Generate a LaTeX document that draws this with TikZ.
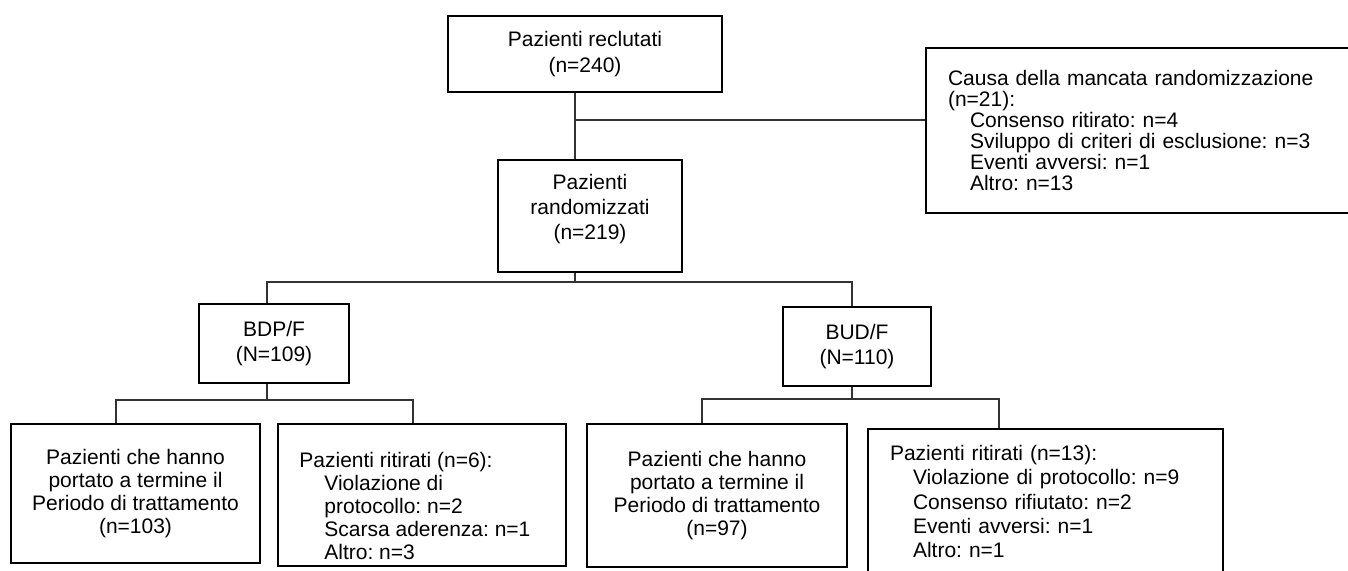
\documentclass[tikz,border=0pt]{standalone}
\usepackage{fontspec}
\setmainfont{Liberation Sans}
\usepackage{tikz}
\usetikzlibrary{positioning}
\frenchspacing

\begin{document}
\begin{tikzpicture}[
    x=0.5pt, y=-0.5pt,
    every node/.style={inner sep=0pt, align=center, font=\fontsize{10.5}{12.5}\selectfont},
    box/.style={draw, line width=1pt},
    leftbox/.style={box, align=left, inner xsep=11pt},
    leading/.style={font=\fontsize{10.5}{#1}\selectfont},
    link/.style={draw=black!80, line width=0.65pt}
]
    \useasboundingbox (0,0) rectangle (1348,570);

    % --- SCREENING ---
    \node[box, leading=12.85pt, minimum width=137pt, minimum height=38pt] (recl) at (585,54)
        {Pazienti reclutati\\(n=240)};

    \node[leftbox, leading=10.5pt, text width=191pt, minimum height=82.5pt] (causa) at (1139,130.5)
        {Causa della mancata randomizzazione\\(n=21):\\
         \hspace*{11pt}Consenso ritirato: n=4\\
         \hspace*{11pt}Sviluppo di criteri di esclusione: n=3\\
         \hspace*{11pt}Eventi avversi: n=1\\
         \hspace*{11pt}Altro: n=13};

    \node[box, minimum width=92pt, minimum height=56pt] (rand) at (590,216) {};
    \node[leading=12.65pt] (randtxt) at (590,209) {Pazienti\\randomizzati\\(n=219)};

    % --- ARMS ---
    \node[box, leading=12.15pt, minimum width=75pt, minimum height=39.5pt] (bdp) at (274,343.5)
        {BDP/F\\(N=109)};
    \node[box, leading=12.15pt, minimum width=74pt, minimum height=39.5pt] (bud) at (857,346.5)
        {BUD/F\\(N=110)};

    % --- OUTCOMES: BDP/F ---
    \node[box, leading=11.5pt, minimum width=124.5pt, minimum height=69.5pt] (comp1) at (135.5,493.5)
        {Pazienti che hanno\\portato a termine il\\Periodo di trattamento\\(n=103)};

    \node[box, minimum width=144pt, minimum height=71pt] (rit1) at (422,495) {};
    \node[leading=11.5pt, align=left, anchor=west] (rit1txt) at (299,506)
        {Pazienti ritirati (n=6):\\
         \hspace*{12.5pt}Violazione di\\
         \hspace*{12.5pt}protocollo: n=2\\
         \hspace*{12.5pt}Scarsa aderenza: n=1\\
         \hspace*{12.5pt}Altro: n=3};

    % --- OUTCOMES: BUD/F ---
    \node[box, leading=11.5pt, minimum width=130pt, minimum height=71.5pt] (comp2) at (717,495.5)
        {Pazienti che hanno\\portato a termine il\\Periodo di trattamento\\(n=97)};

    \node[leftbox, leading=12.15pt, text width=155.5pt, minimum height=72.5pt] (rit2) at (1045.5,501.5)
        {Pazienti ritirati (n=13):\\
         \hspace*{11.5pt}Violazione di protocollo: n=9\\
         \hspace*{11.5pt}Consenso rifiutato: n=2\\
         \hspace*{11.5pt}Eventi avversi: n=1\\
         \hspace*{11.5pt}Altro: n=1};

    % --- JUNCTIONS ---
    \coordinate (s0) at (575,120);
    \coordinate (s1) at (575,282);
    \coordinate (s2) at (267,400);
    \coordinate (s3) at (852,399);
    \coordinate (d1) at (116,400);
    \coordinate (d2) at (413,400);
    \coordinate (d3) at (702,399);
    \coordinate (d4) at (999,399);

    % --- CONNECTORS ---
    \draw[link] (recl.south -| s0) -- (rand.north -| s0);
    \draw[link] (s0) -- (s0 -| causa.west);

    \draw[link] (rand.south -| s1) -- (s1);
    \draw[link] (bdp.north -| s2) |- (s1) -| (bud.north -| s3);

    \draw[link] (bdp.south -| s2) -- (s2);
    \draw[link] (comp1.north -| d1) |- (s2) -| (rit1.north -| d2);

    \draw[link] (bud.south -| s3) -- (s3);
    \draw[link] (comp2.north -| d3) |- (s3) -| (rit2.north -| d4);

\end{tikzpicture}
\end{document}
